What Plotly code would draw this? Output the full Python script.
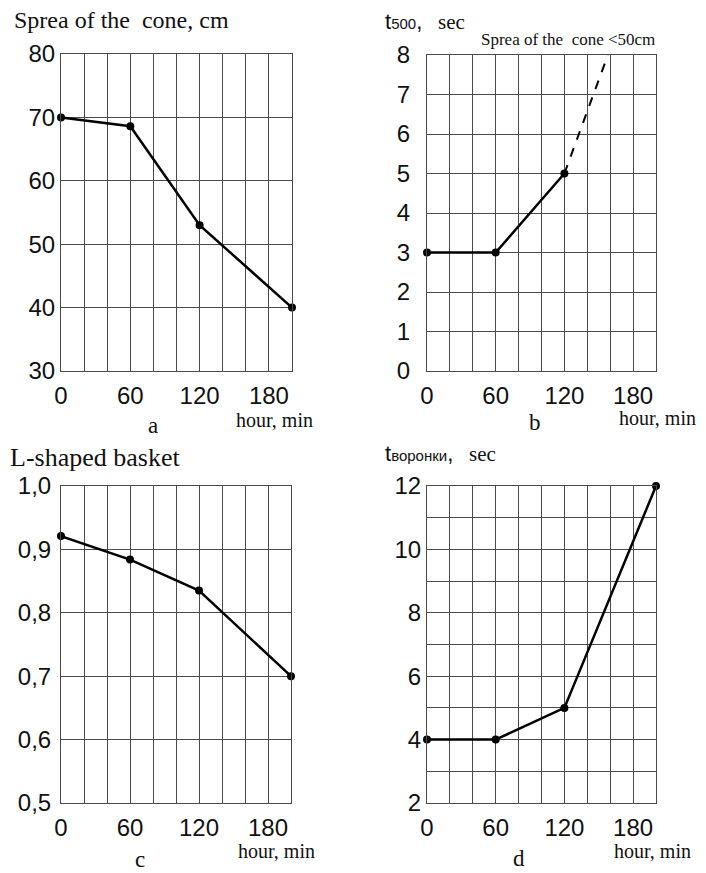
import plotly.graph_objects as go

# page body has an 8px margin; the figure fills the rest of the 706x873 window
OFF = 8
W, H = 706 - OFF, 873 - OFF

# ---- data ----
time_a = [0, 60, 120, 200]
spread_a = [70, 68.6, 53, 40]

time_b = [0, 60, 120]
t500_b = [3, 3, 5]
time_b_dash = [120, 158]
t500_b_dash = [5, 8]

time_c = [0, 60, 120, 200]
basket_c = [0.921, 0.884, 0.835, 0.70]

time_d = [0, 60, 120, 200]
tfunnel_d = [4, 4, 5, 12]

x_tickvals = [0, 60, 120, 180]
x_ticktext = ["0", "60", "120", "180"]

ya_ticks = [30, 40, 50, 60, 70, 80]
yb_ticks = [0, 1, 2, 3, 4, 5, 6, 7, 8]
yc_ticks = [0.5, 0.6, 0.7, 0.8, 0.9, 1.0]
yc_text = ["0,5", "0,6", "0,7", "0,8", "0,9", "1,0"]
yd_ticks = [2, 4, 6, 8, 10, 12]

GRID = "#4a4a4a"
TICKFONT = dict(family="Liberation Sans, Arial, sans-serif", size=24, color="#111")
SERIF = "Liberation Serif, Times New Roman, serif"


def px(x):
    return (x - OFF) / W


def py(y):
    return 1 - (y - OFF) / H


fig = go.Figure()

line_style = dict(color="black", width=2.5)
marker_style = dict(color="black", size=8)

fig.add_trace(go.Scatter(x=time_a, y=spread_a, mode="lines+markers", line=line_style,
                         marker=marker_style, xaxis="x", yaxis="y", cliponaxis=False))
fig.add_trace(go.Scatter(x=time_b, y=t500_b, mode="lines+markers", line=line_style,
                         marker=marker_style, xaxis="x2", yaxis="y2", cliponaxis=False))
fig.add_trace(go.Scatter(x=time_b_dash, y=t500_b_dash, mode="lines",
                         line=dict(color="black", width=2, dash="dash"),
                         xaxis="x2", yaxis="y2"))
fig.add_trace(go.Scatter(x=time_c, y=basket_c, mode="lines+markers", line=line_style,
                         marker=marker_style, xaxis="x3", yaxis="y3", cliponaxis=False))
fig.add_trace(go.Scatter(x=time_d, y=tfunnel_d, mode="lines+markers", line=line_style,
                         marker=marker_style, xaxis="x4", yaxis="y4", cliponaxis=False))


def xaxis(domain, anchor):
    return dict(domain=domain, anchor=anchor, range=[0, 200], tickmode="array",
                tickvals=x_tickvals, ticktext=x_ticktext, showgrid=True, gridcolor=GRID,
                gridwidth=1, showline=True, linecolor=GRID, linewidth=1, mirror=True,
                zeroline=False, ticks="", tickfont=TICKFONT, ticklabelstandoff=3,
                automargin=False,
                minor=dict(tickmode="linear", tick0=0, dtick=20, showgrid=True,
                           gridcolor=GRID, gridwidth=1))


def yaxis(domain, anchor, rng, vals, text=None, minor_dtick=None, standoff=0):
    d = dict(domain=domain, anchor=anchor, range=rng, tickmode="array", tickvals=vals,
             ticktext=text if text else [str(v) for v in vals], showgrid=True,
             gridcolor=GRID, gridwidth=1, showline=True, linecolor=GRID, linewidth=1,
             mirror=True, zeroline=False, ticks="", tickfont=TICKFONT,
             ticklabelstandoff=standoff, automargin=False)
    if minor_dtick:
        d["minor"] = dict(tickmode="linear", tick0=rng[0], dtick=minor_dtick,
                          showgrid=True, gridcolor=GRID, gridwidth=1)
    return d


fig.update_layout(
    width=W, height=H, margin=dict(l=0, r=0, t=0, b=0),
    paper_bgcolor="white", plot_bgcolor="white", showlegend=False,
    xaxis=xaxis([px(61), px(292)], "y"),
    yaxis=yaxis([py(371), py(54)], "x", [30, 80], ya_ticks),
    xaxis2=xaxis([px(427), px(656)], "y2"),
    yaxis2=yaxis([py(371), py(55)], "x2", [0, 8], yb_ticks, standoff=11),
    xaxis3=xaxis([px(61), px(291)], "y3"),
    yaxis3=yaxis([py(803), py(486)], "x3", [0.5, 1.0], yc_ticks, yc_text, standoff=4),
    xaxis4=xaxis([px(427), px(656)], "y4"),
    yaxis4=yaxis([py(803), py(486)], "x4", [2, 12], yd_ticks, minor_dtick=1),
)


def note(text, x, y, size, family=SERIF, xanchor="left"):
    fig.add_annotation(text=text, x=px(x), y=py(y), xref="paper", yref="paper",
                       xanchor=xanchor, yanchor="middle", showarrow=False,
                       font=dict(family=family, size=size, color="#111"))


sans = "font-family:Liberation Sans, Arial, sans-serif"
note("Sprea of the\u00a0\u00a0cone, cm", 12, 20, 24)
note("Sprea of the\u00a0\u00a0cone <50cm", 479, 40, 17)
note(f"<span style='{sans};font-size:22px'>t</span><span style='{sans};font-size:15px'>500</span>"
     f"<span style='{sans};font-size:22px'>,</span>\u00a0\u00a0\u00a0sec", 383, 22, 21)
note("L-shaped basket", 8, 458, 26)
note(f"<span style='{sans};font-size:22px'>t</span><span style='{sans};font-size:15px'>воронки</span>"
     f"<span style='{sans};font-size:22px'>,</span>\u00a0\u00a0\u00a0sec", 383, 453, 21)

note("hour, min", 234, 420, 20)
note("hour, min", 617, 418, 20)
note("hour, min", 236, 851, 20)
note("hour, min", 612, 851, 20)

note("a", 153, 425, 23, xanchor="center")
note("b", 535, 423, 23, xanchor="center")
note("c", 140, 859, 23, xanchor="center")
note("d", 519, 858, 23, xanchor="center")

fig.write_html("out.html")
